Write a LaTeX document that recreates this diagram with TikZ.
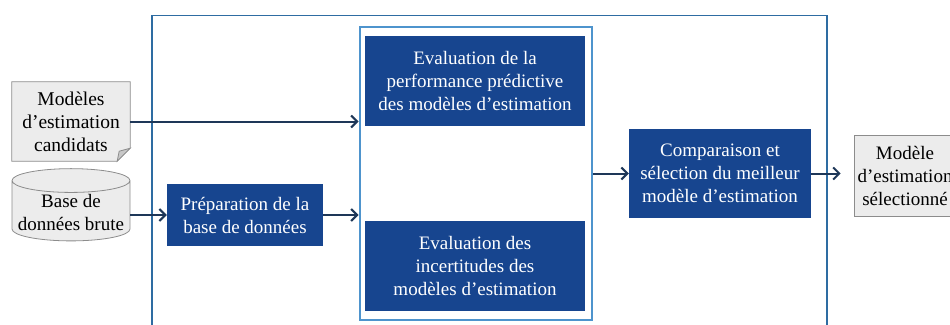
\documentclass[tikz,border=0pt]{standalone}
\usepackage{fontspec}
\setmainfont{Liberation Serif}
\usetikzlibrary{arrows.meta,shapes.geometric,backgrounds,positioning}

\definecolor{bleuboite}{RGB}{23,69,143}
\definecolor{bleucadre}{RGB}{46,108,162}
\definecolor{bleuclair}{RGB}{78,148,205}
\definecolor{bleufleche}{RGB}{30,55,88}
\definecolor{grisfond}{RGB}{236,236,236}
\definecolor{grisbord}{RGB}{140,140,140}
\definecolor{grispli}{RGB}{200,200,200}

\begin{document}
\begin{tikzpicture}[x=1pt,y=-1pt,>={Straight Barb[length=6pt,width=12pt]},
  etape/.style={rectangle,fill=bleuboite,text=white,align=center,
    font=\fontsize{19}{23}\selectfont,inner sep=1pt},
  donnee/.style={rectangle,fill=grisfond,draw=grisbord,line width=0.8pt,
    align=center,font=\fontsize{19}{23}\selectfont,inner sep=1pt},
  cadre/.style={rectangle,inner sep=0pt},
  fleche/.style={->,draw=bleufleche,line width=2pt}]
  \useasboundingbox (0,0) rectangle (950,324);

  % cadres
  \node[cadre,draw=bleucadre,line width=1.6pt,minimum width=675pt,minimum height=340pt] (outer) at (489.5,185.5) {};
  \node[cadre,draw=bleuclair,line width=2pt,minimum width=232.5pt,minimum height=293pt] (groupe) at (475.75,173.5) {};

  % entrees
  \node[align=center,font=\fontsize{19.5}{23}\selectfont,minimum width=118pt,minimum height=79pt,inner sep=0pt] (candidats) at (71,121.5) {Modèles\\d’estimation\\candidats};
  \begin{scope}[on background layer]
    \draw[draw=grisbord,fill=grisfond,line width=0.8pt] (candidats.north west) -- (candidats.north east)
      -- ([yshift=13pt]candidats.south east) -- ([xshift=-13pt]candidats.south east)
      -- (candidats.south west) -- cycle;
    \draw[draw=grisbord,fill=grispli,line width=0.8pt] ([yshift=13pt]candidats.south east)
      -- ([xshift=-13pt]candidats.south east) -- ([xshift=-11pt,yshift=10pt]candidats.south east) -- cycle;
  \end{scope}
  \node[donnee,cylinder,shape border rotate=90,aspect=0.22,minimum width=118pt,minimum height=50pt] (base) at (71,212) {Base de\\données brute};

  % etapes
  \node[etape,minimum width=156pt,minimum height=62pt] (prep) at (245,215) {Préparation de la\\base de données};
  \node[etape,minimum width=220pt,minimum height=90pt] (perf) at (475,81) {Evaluation de la\\performance prédictive\\des modèles d’estimation};
  \node[etape,minimum width=220pt,minimum height=90pt] (incert) at (475,266) {Evaluation des\\incertitudes des\\modèles d’estimation};
  \node[etape,minimum width=182pt,minimum height=89pt] (comp) at (720,173.5) {Comparaison et\\sélection du meilleur\\modèle d’estimation};

  % sortie
  \node[donnee,minimum width=102pt,minimum height=81pt] (selection) at (905,175.5) {Modèle\\d’estimation\\sélectionné};

  % liens
  \draw[fleche] (candidats.east) -- (candidats.east -| groupe.west);
  \draw[fleche] (base.east |- prep.west) -- (prep.west);
  \draw[fleche] (prep.east) -- (prep.east -| groupe.west);
  \draw[fleche] (groupe.east |- comp.west) -- (comp.west);
  \draw[fleche,shorten >=13pt] (comp.east) -- (comp.east -| selection.west);
\end{tikzpicture}
\end{document}
